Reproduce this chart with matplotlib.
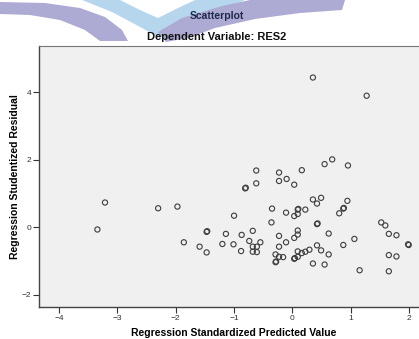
import matplotlib
matplotlib.use('Agg')
from matplotlib import pyplot as plt
from matplotlib.patches import Polygon

# Regression Standardized Predicted Value (x) / Studentized Residual (y)
pred = [0.35, 1.27,
        0.35, 0.42, 0.49, 0.94, -0.35, -0.11, 0.03, 0.09, 0.10, 0.09, 0.22, 0.80, 0.87, 0.88,
        -1.00, -0.36, 0.42, 0.43, 1.52, 1.59,
        -1.47, -1.46, -1.14, -0.87, -0.68, -0.23, 0.09, 0.09, 0.03, 0.62, 1.65, 1.78, 1.06,
        -1.59, -1.47, -1.20, -1.01, -0.88, -0.74, -0.68, -0.61, -0.55, -0.68, -0.61,
        -0.23, -0.11, -0.29, -0.23, -0.16, -0.29, -0.28, 0.03, 0.04, 0.09, 0.09, 0.16, 0.22,
        0.29, 0.42, 0.49, 0.62, 0.35, 0.55, 0.87, 1.15, 1.65, 1.78, 1.65, 1.98, 1.99,
        -3.21, -3.34, -2.30, -1.97, -1.86,
        -0.62, -0.23, 0.16, -0.62, -0.23, -0.10, 0.03, -0.81, -0.80,
        0.55, 0.68, 0.95]
resid = [4.44, 3.90,
         0.82, 0.70, 0.87, 0.78, 0.55, 0.43, 0.33, 0.52, 0.54, 0.39, 0.52, 0.41, 0.55, 0.57,
         0.34, 0.14, 0.09, 0.11, 0.14, 0.05,
         -0.14, -0.12, -0.20, -0.23, -0.11, -0.26, -0.10, -0.22, -0.32, -0.19, -0.20, -0.24, -0.35,
         -0.58, -0.75, -0.50, -0.51, -0.71, -0.41, -0.58, -0.58, -0.45, -0.73, -0.74,
         -0.58, -0.45, -0.81, -0.88, -0.89, -1.04, -1.02, -0.94, -0.92, -0.88, -0.72, -0.77, -0.73,
         -0.67, -0.54, -0.69, -0.81, -1.08, -1.11, -0.53, -1.28, -0.83, -0.87, -1.31, -0.51, -0.53,
         0.73, -0.07, 0.56, 0.61, -0.45,
         1.68, 1.62, 1.69, 1.30, 1.37, 1.43, 1.26, 1.15, 1.17,
         1.87, 2.01, 1.83]

x_ticks = [-4, -3, -2, -1, 0, 1, 2]
y_ticks = [-2, 0, 2, 4]

plt.rcParams['font.family'] = ['Liberation Sans', 'DejaVu Sans']

W, H = 419, 339
fig = plt.figure(figsize=(W / 100, H / 100), dpi=100)


# decorative banner behind the titles (pixel coords, y down)
def banner(pts, color):
    xy = [(px / W, 1 - py / H) for px, py in pts]
    fig.patches.append(Polygon(xy, closed=True, transform=fig.transFigure,
                               facecolor=color, edgecolor='none', zorder=0))


banner([(0, 2), (45, 3), (80, 8), (105, 17), (122, 30), (128, 41), (100, 41),
        (85, 30), (60, 20), (30, 15), (0, 14)], '#adaad3')
banner([(82, 0), (120, 0), (140, 10), (158, 18), (178, 8), (195, 0), (245, 0),
        (210, 14), (182, 26), (160, 38), (142, 28), (112, 12)], '#b6d6ee')
banner([(158, 32), (182, 18), (222, 6), (250, 0), (345, 0), (342, 10), (300, 13),
        (255, 19), (215, 28), (188, 38), (166, 42)], '#adaad3')

ax = fig.add_axes([39 / W, 1 - 307 / H, 1.02 - 39 / W, (307 - 45.5) / H])
ax.set_facecolor('#f0f0f0')
ax.scatter(pred, resid, s=14, facecolors='none', edgecolors='#3c3c3c', linewidths=0.8, zorder=3)

ax.set_xlim(-4.34, 2.31)
ax.set_ylim(-2.37, 5.39)
ax.set_xticks(x_ticks)
ax.set_yticks(y_ticks)
ax.tick_params(direction='out', length=4, width=0.8, color='#333333', labelsize=6,
               labelcolor='#333333', pad=1.5)

for side in ['left', 'bottom']:
    ax.spines[side].set_color('#444444')
    ax.spines[side].set_linewidth(1.0)
ax.spines['top'].set_color('#777777')
ax.spines['right'].set_visible(False)

ax.set_xlabel('Regression Standardized Predicted Value', fontsize=7.5, fontweight='bold')
ax.set_ylabel('Regression Studentized Residual', fontsize=7.5, fontweight='bold')
ax.xaxis.set_label_coords((234 - 39) / ((1.02 - 39 / W) * W), -(333 - 307) / (307 - 45.5))
ax.yaxis.set_label_coords(-(39 - 15) / ((1.02 - 39 / W) * W), 0.5)
ax.xaxis.label.set_va('center')
ax.yaxis.label.set_va('center')

fig.text(217 / W, 1 - 16 / H, 'Scatterplot', ha='center', va='center', fontsize=7.5,
         fontweight='bold', color='#1e2a4a')
fig.text(217 / W, 1 - 37 / H, 'Dependent Variable: RES2', ha='center', va='center',
         fontsize=8, fontweight='bold', color='#111111')

fig.savefig('out.png', dpi=100)
